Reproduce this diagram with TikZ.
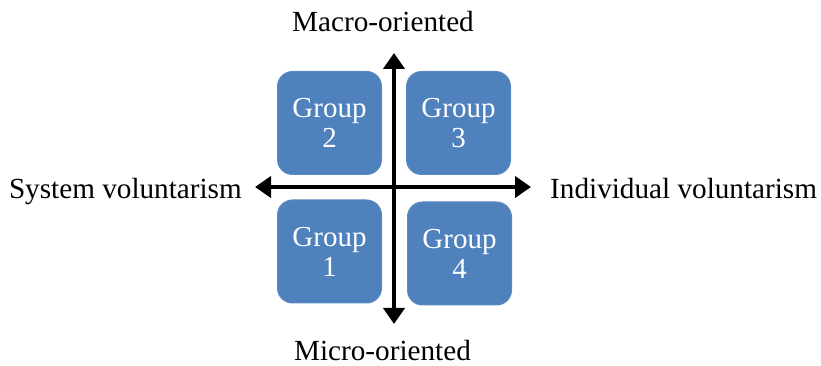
\documentclass[tikz,border=0pt]{standalone}
\usepackage{fontspec}
\setmainfont{Liberation Serif}
\usetikzlibrary{arrows.meta}
\definecolor{boxblue}{HTML}{4F81BD}
\definecolor{boxedge}{HTML}{5B8BC4}
\tikzset{
  grp/.style={draw=boxedge, line width=1pt, fill=boxblue, rounded corners=15pt,
    minimum width=104pt, minimum height=103pt, text=white, align=center,
    font=\fontsize{29}{30}\selectfont, inner sep=0pt},
  lbl/.style={font=\fontsize{29.2}{32}\selectfont, inner sep=0pt},
  axis/.style={line width=4pt, {Triangle[length=16pt,width=21pt]}-{Triangle[length=16pt,width=21pt]}}
}
\begin{document}
\begin{tikzpicture}[x=1pt,y=1pt]
\useasboundingbox (0,0) rectangle (821,366);
\node[grp] (g2) at (329.5,243) {Group\\2};
\node[grp] (g3) at (458.5,243) {Group\\3};
\node[grp] (g1) at (329.5,114.5) {Group\\1};
\node[grp] (g4) at (459.5,112.5) {Group\\4};
\coordinate (top) at (394,313);
\coordinate (bot) at (394,42);
\coordinate (lft) at (255,179);
\coordinate (rgt) at (531,179);
\draw[axis] (bot) -- (top);
\draw[axis] (lft) -- (rgt);
\node[lbl, anchor=base] (macro) at (383,334) {Macro-oriented};
\node[lbl, anchor=base] (micro) at (382.5,5) {Micro-oriented};
\node[lbl, anchor=base east] (sys) at (242,167) {System voluntarism};
\node[lbl, anchor=base west] (ind) at (550,167) {Individual voluntarism};
\end{tikzpicture}
\end{document}
